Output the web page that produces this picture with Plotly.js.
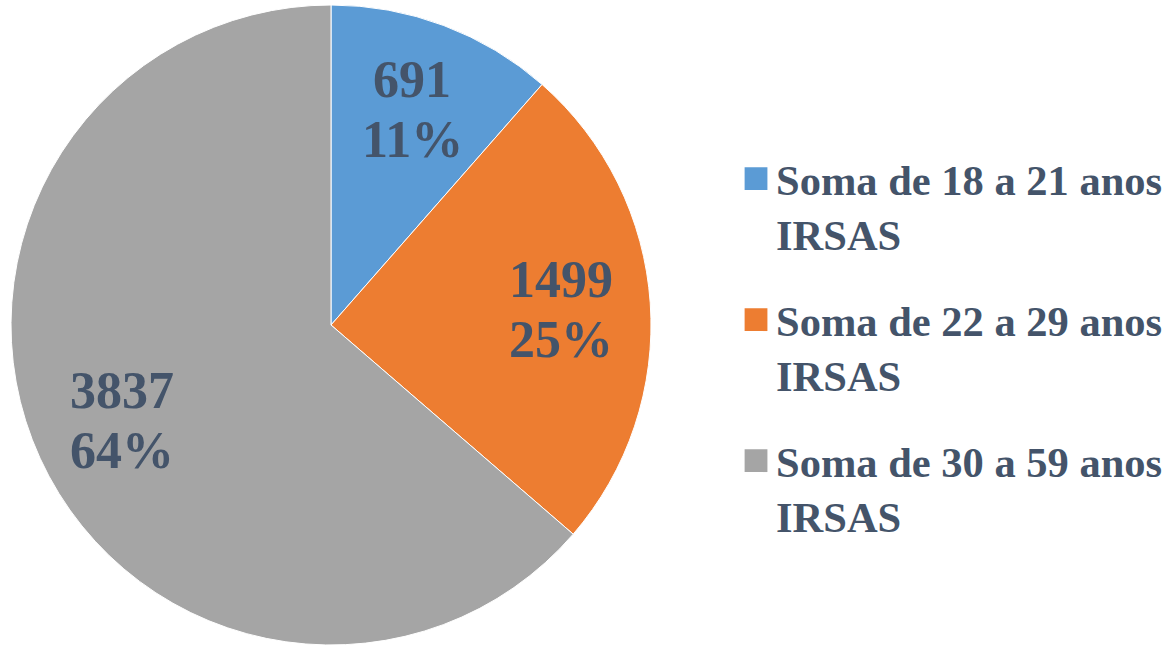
<!DOCTYPE html>
<html>
<head>
<meta charset="utf-8">
<script src="https://cdn.plot.ly/plotly-3.0.1.min.js"></script>
<style>html,body{margin:0;padding:0;background:#fff;}#chart{width:1172px;height:646px;}</style>
</head>
<body>
<div id="chart"></div>
<script>
const categories = ["Soma de 18 a 21 anos<br>IRSAS", "Soma de 22 a 29 anos<br>IRSAS", "Soma de 30 a 59 anos<br>IRSAS"];
const values = [691, 1499, 3837];
const colors = ["#5b9bd5", "#ed7d31", "#a5a5a5"];

const FONT = 'Liberation Serif, Times New Roman, serif';
const TXT = '#44546a';
const W = 1172, H = 646;
const M = {l: 0, r: 0, t: 5, b: 1};
const domX = [0, 662 / W];
const domY = [0, 1];

// pie geometry in paper units (derived from the domain, as plotly does)
const plotW = W - M.l - M.r, plotH = H - M.t - M.b;
const cxP = (domX[0] + domX[1]) / 2, cyP = (domY[0] + domY[1]) / 2;
const rPx = Math.min((domX[1] - domX[0]) * plotW, (domY[1] - domY[0]) * plotH) / 2;

const total = values.reduce((a, b) => a + b, 0);
const labelR = 0.72;
const annotations = [];
let cum = 0;
values.forEach(function (v, i) {
  const f = v / total;
  const mid = (cum + f / 2) * 2 * Math.PI;
  cum += f;
  const x = cxP + labelR * rPx * Math.sin(mid) / plotW;
  const y = cyP + labelR * rPx * Math.cos(mid) / plotH;
  const font = {family: FONT, size: 52, color: TXT, weight: 'bold'};
  const base = {xref: 'paper', yref: 'paper', x: x, y: y, xanchor: 'center', yanchor: 'middle', showarrow: false, font: font};
  annotations.push(Object.assign({}, base, {yshift: 30, text: String(v)}));
  annotations.push(Object.assign({}, base, {yshift: -30, text: Math.round(f * 100) + '%'}));
});

// legend entries (one group per category so the group gap spaces them)
const legendTraces = categories.map(function (c, i) {
  return {
    type: 'pie', labels: [c], values: [values[i]], sort: false,
    marker: {colors: [colors[i]]}, textinfo: 'none', hoverinfo: 'skip',
    legendgroup: 'g' + i, showlegend: true,
    domain: {x: [cxP - 0.0004, cxP + 0.0004], y: [cyP - 0.0004, cyP + 0.0004]}
  };
});

const mainTrace = {
  type: 'pie',
  labels: categories,
  values: values,
  sort: false,
  direction: 'clockwise',
  rotation: 0,
  marker: {colors: colors, line: {color: '#ffffff', width: 1}},
  textinfo: 'none',
  showlegend: false,
  hoverinfo: 'label+value+percent',
  domain: {x: domX, y: domY}
};

const layout = {
  width: W, height: H,
  margin: {l: M.l, r: M.r, t: M.t, b: M.b, autoexpand: false},
  paper_bgcolor: '#ffffff',
  showlegend: true,
  annotations: annotations,
  legend: {
    x: 0.628, xanchor: 'left', y: 0.782, yanchor: 'top',
    font: {family: FONT, size: 42.5, color: TXT, weight: 'bold'},
    traceorder: 'grouped', tracegroupgap: 27.5, valign: 'top',
    bgcolor: 'rgba(0,0,0,0)'
  },
  font: {family: FONT}
};

Plotly.newPlot('chart', legendTraces.concat([mainTrace]), layout, {displayModeBar: false, staticPlot: true}).then(function () {
  document.querySelectorAll('#chart .legendpoints path').forEach(function (p) {
    const t = p.getAttribute('transform') || '';
    p.setAttribute('transform', t + ' scale(1.9)');
  });
});
</script>
</body>
</html>
